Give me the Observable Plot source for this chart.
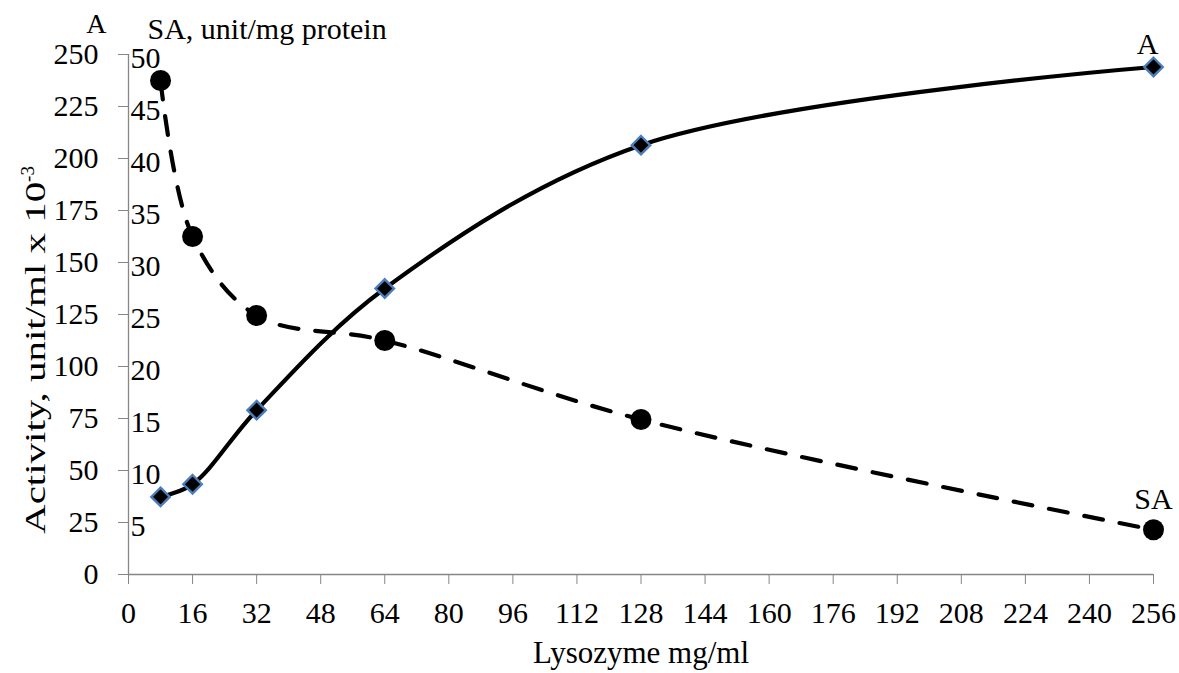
<!DOCTYPE html>
<html><head><meta charset="utf-8">
<script src="https://cdn.jsdelivr.net/npm/d3@7"></script>
<script src="https://cdn.jsdelivr.net/npm/@observablehq/plot@0.6"></script>
<style>
body{margin:0;background:#fff}
svg{display:block}
svg, svg text {font-family: "Liberation Serif", "Times New Roman", serif !important;}
</style>
</head><body><div id="chart"></div>
<script>
// ---- data ----
const lysozyme   = [8, 16, 32, 64, 128, 256];                 // mg/ml
const activityA  = [37.3, 43.4, 79.0, 137.5, 206.4, 244.0];   // unit/ml x 10^-3
const specificSA = [47.5, 32.5, 24.9, 22.5, 14.9, 4.3];       // unit/mg protein
const xTicks  = [0,16,32,48,64,80,96,112,128,144,160,176,192,208,224,240,256];
const yTicks  = [0,25,50,75,100,125,150,175,200,225,250];
const saTicks = [5,10,15,20,25,30,35,40,45,50];
const SA_FACTOR = 5; // SA 50 sits at A 250

const rows = lysozyme.map((x, i) => ({x, a: activityA[i], sa: specificSA[i]}));
const font = "Liberation Serif, Times New Roman, serif";
const gray = "#868686";

const plot = Plot.plot({
  width: 1179, height: 673,
  marginLeft: 128, marginRight: 26, marginTop: 54, marginBottom: 99,
  style: {fontFamily: font, fontSize: "30px", color: "#000", background: "#fff", overflow: "visible"},
  x: {domain: [0, 256]},
  y: {domain: [0, 250]},
  marks: [
    Plot.axisX({ticks: xTicks, tickSize: 10, tickPadding: 17, stroke: gray, label: null, fontSize: 30}),
    Plot.axisY({ticks: yTicks, tickSize: 10, tickPadding: 20, stroke: gray, label: null, fontSize: 30}),
    Plot.ruleY([0], {stroke: gray, strokeWidth: 1.3}),
    Plot.ruleX([0], {stroke: gray, strokeWidth: 1.3}),
    Plot.text(saTicks, {y: d => d * SA_FACTOR, frameAnchor: "left", textAnchor: "start", dx: 2, dy: 4, fontSize: 30}),
    Plot.line(rows, {x: "x", y: d => d.sa * SA_FACTOR, curve: "catmull-rom", stroke: "#000", strokeWidth: 4.2, strokeDasharray: "19,17", strokeLinecap: "round"}),
    Plot.line(rows, {x: "x", y: "a", curve: "catmull-rom", stroke: "#000", strokeWidth: 4.2}),
    Plot.dot(rows, {x: "x", y: d => d.sa * SA_FACTOR, r: 10.5, fill: "#000"}),
    Plot.dot(rows, {x: "x", y: "a", symbol: "diamond2", r: 8.3, fill: "#000", stroke: "#4a7ebb", strokeWidth: 2.4}),
    Plot.text(rows.slice(-1), {x: "x", y: "a", text: () => "A", lineAnchor: "bottom", dx: -6, dy: -13, fontSize: 30}),
    Plot.text(rows.slice(-1), {x: "x", y: d => d.sa * SA_FACTOR, text: () => "SA", lineAnchor: "bottom", dx: 0, dy: -21, fontSize: 30}),
    Plot.text(["A"], {frameAnchor: "top-left", textAnchor: "end", lineAnchor: "bottom", dx: -22, dy: -22, fontSize: 28}),
    Plot.text(["SA, unit/mg protein"], {frameAnchor: "top-left", textAnchor: "start", lineAnchor: "bottom", dx: 19, dy: -16, fontSize: 30}),
    Plot.text(["Lysozyme mg/ml"], {frameAnchor: "bottom", lineAnchor: "bottom", dy: 88, fontSize: 31})
  ]
});

// rotated y-axis title with superscript
const svg = d3.select(plot);
const t = svg.append("text")
  .attr("transform", "translate(45,350) rotate(-90)")
  .attr("text-anchor", "middle")
  .attr("font-family", font)
  .attr("font-size", 30)
  .attr("fill", "#000");
t.append("tspan").attr("textLength", 352).attr("lengthAdjust", "spacingAndGlyphs").text("Activity, unit/ml x 10");
t.append("tspan").attr("font-size", 19).attr("dy", -11).text("-3");

document.getElementById("chart").appendChild(plot);
</script>
</body></html>
